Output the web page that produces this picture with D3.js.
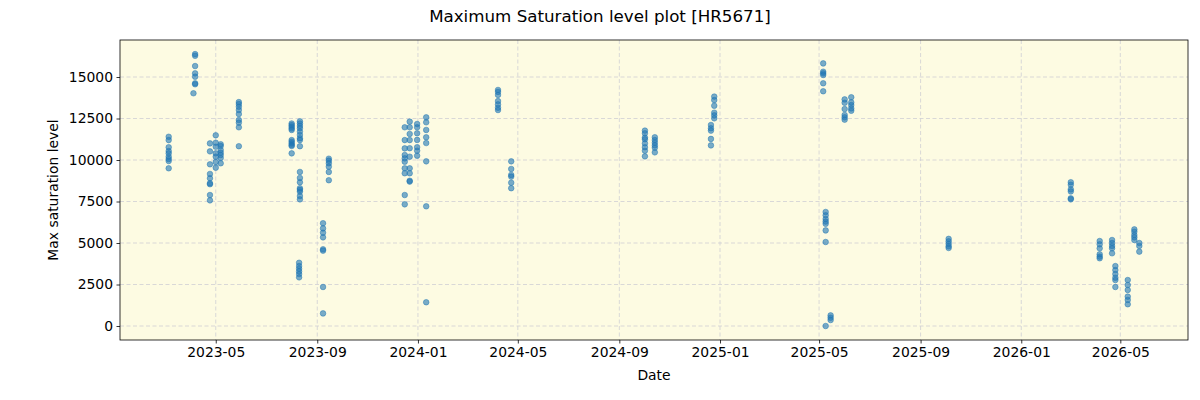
<!DOCTYPE html>
<html>
<head>
<meta charset="utf-8">
<script src="https://cdn.jsdelivr.net/npm/d3@7"></script>
<style>
  body { margin: 0; background: #fff; }
  svg text { font-family: "DejaVu Sans", sans-serif; }
</style>
</head>
<body>
<div id="chart"></div>
<script>
const obsDates = [
  "2023-03-05", "2023-04-06", "2023-04-04", "2023-04-24", "2023-05-01", "2023-05-07",
  "2023-05-29", "2023-08-01", "2023-08-11", "2023-08-10", "2023-09-15", "2023-09-08",
  "2023-12-16", "2023-12-22", "2023-12-31", "2024-01-11", "2024-04-07", "2024-04-23",
  "2024-10-02", "2024-10-14", "2024-12-21", "2024-12-25", "2025-05-06", "2025-05-09",
  "2025-05-15", "2025-06-01", "2025-06-09", "2025-10-05", "2026-03-02", "2026-04-06",
  "2026-04-21", "2026-04-25", "2026-05-10", "2026-05-18", "2026-05-24"
]
const obsValues = [
  [11400, 11200, 10770, 10540, 10400, 10200, 10060, 9940, 9500],
  [16380, 16280, 15660, 15220, 15020, 14620, 14560],
  [14020],
  [11000, 10520, 9740, 9160, 8900, 8600, 8540, 7890, 7570],
  [11490, 11040, 10800, 10400, 10200, 9880, 9540],
  [10950, 10840, 10600, 10440, 10300, 10120, 9800],
  [13490, 13370, 13210, 13010, 12770, 12410, 12250, 11970, 10830],
  [12200, 12100, 12000, 11900, 11810, 11200, 11100, 11000, 10900, 10840, 10400],
  [12330, 12200, 12050, 11910, 11710, 11510, 11310, 11200, 10830,
   9280, 8920, 8660, 8300, 8200, 8090, 7830, 7630],
  [3810, 3610, 3450, 3290, 3130, 2930],
  [10080, 9960, 9800, 9600, 9280, 8780],
  [6190, 5880, 5620, 5340, 4620, 4540, 2350, 760],
  [11970, 11200, 10700, 10300, 10100, 9900, 9500, 9200, 7890, 7330],
  [12310, 11970, 11570, 11200, 10710, 10200, 9500, 9200, 8700, 8750],
  [12170, 11970, 11610, 11210, 10770, 10560, 10260],
  [12570, 12270, 11810, 11370, 11020, 9920, 7210, 1430],
  [14220, 14100, 13920, 13550, 13350, 13150, 13010],
  [9920, 9460, 9100, 9000, 8630, 8300],
  [11770, 11610, 11350, 11250, 11000, 10770, 10560, 10220],
  [11370, 11200, 11040, 10880, 10740, 10460],
  [12110, 11910, 11770, 11270, 10880],
  [13820, 13610, 13270, 12850, 12690, 12510],
  [15820, 15320, 15220, 15120, 14620, 14140],
  [6870, 6670, 6450, 6290, 6160, 5760, 5060, 0],
  [640, 500, 360],
  [13650, 13450, 13070, 12710, 12570, 12430],
  [13780, 13470, 13310, 13110, 12970],
  [5250, 5100, 4950, 4800, 4700],
  [8660, 8510, 8230, 8110, 7690, 7630],
  [5120, 4920, 4680, 4320, 4180, 4080],
  [5180, 5000, 4820, 4680, 4380],
  [3610, 3370, 3130, 2910, 2770, 2350],
  [2770, 2470, 2170, 1770, 1570, 1310],
  [5820, 5680, 5480, 5340, 5180],
  [5000, 4820, 4480]
]
const yTicks = [0, 2500, 5000, 7500, 10000, 12500, 15000]
const xTicks = ["2023-05-01", "2023-09-01", "2024-01-01", "2024-05-01", "2024-09-01",
  "2025-01-01", "2025-05-01", "2025-09-01", "2026-01-01", "2026-05-01"]

const W = 1200, H = 400
const margin = { top: 40, right: 12, bottom: 60, left: 120 }
const width = W - margin.left - margin.right
const height = H - margin.top - margin.bottom

const parse = d3.utcParse("%Y-%m-%d")
const points = []
obsDates.forEach((d, i) => {
  obsValues[i].forEach(v => points.push({ date: parse(d), value: v }))
})

const svg = d3.select("#chart")
  .append("svg")
  .attr("width", W)
  .attr("height", H)

svg.append("text")
  .attr("x", W / 2)
  .attr("y", 22)
  .attr("text-anchor", "middle")
  .style("font-size", "16.7px")
  .text("Maximum Saturation level plot [HR5671]")

const g = svg.append("g")
  .attr("transform", `translate(${margin.left},${margin.top})`)

const x = d3.scaleUtc()
  .domain([parse("2023-01-05"), parse("2026-07-22")])
  .range([0, width])
const y = d3.scaleLinear()
  .domain([-843, 17229])
  .range([height, 0])

g.append("rect")
  .attr("width", width)
  .attr("height", height)
  .attr("fill", "#fdfbe2")

// grid
g.selectAll(".xgrid")
  .data(xTicks.map(parse))
  .join("line")
  .attr("x1", d => x(d)).attr("x2", d => x(d))
  .attr("y1", 0).attr("y2", height)
  .attr("stroke", "#cfcfd4")
  .attr("stroke-width", 0.8)
  .attr("stroke-dasharray", "4,2.5")
g.selectAll(".ygrid")
  .data(yTicks)
  .join("line")
  .attr("x1", 0).attr("x2", width)
  .attr("y1", d => y(d)).attr("y2", d => y(d))
  .attr("stroke", "#cfcfd4")
  .attr("stroke-width", 0.8)
  .attr("stroke-dasharray", "4,2.5")

// points
g.selectAll(".pt")
  .data(points)
  .join("circle")
  .attr("cx", d => x(d.date))
  .attr("cy", d => y(d.value))
  .attr("r", 2.8)
  .attr("fill", "#1f77b4")
  .attr("fill-opacity", 0.6)
  .attr("stroke", "#1f77b4")
  .attr("stroke-opacity", 0.6)
  .attr("stroke-width", 0.8)

// axes
const xAxis = g.append("g")
  .attr("transform", `translate(0,${height})`)
  .call(d3.axisBottom(x)
    .tickValues(xTicks.map(parse))
    .tickFormat(d3.utcFormat("%Y-%m"))
    .tickSize(3.5)
    .tickPadding(3.5))
xAxis.select(".domain").remove()
xAxis.selectAll("text").style("font-size", "13.9px").attr("fill", "#000")
xAxis.selectAll("line").attr("stroke", "#000").attr("stroke-width", 0.8)

const yAxis = g.append("g")
  .call(d3.axisLeft(y)
    .tickValues(yTicks)
    .tickFormat(d3.format("d"))
    .tickSize(3.5)
    .tickPadding(3.5))
yAxis.select(".domain").remove()
yAxis.selectAll("text").style("font-size", "13.9px").attr("fill", "#000")
yAxis.selectAll("line").attr("stroke", "#000").attr("stroke-width", 0.8)

// frame
g.append("rect")
  .attr("width", width)
  .attr("height", height)
  .attr("fill", "none")
  .attr("stroke", "#000")
  .attr("stroke-width", 0.8)

svg.append("text")
  .attr("x", margin.left + width / 2)
  .attr("y", 380)
  .attr("text-anchor", "middle")
  .style("font-size", "13.9px")
  .text("Date")

svg.append("text")
  .attr("transform", `translate(58,${margin.top + height / 2}) rotate(-90)`)
  .attr("text-anchor", "middle")
  .style("font-size", "13.9px")
  .text("Max saturation level")
</script>
</body>
</html>
